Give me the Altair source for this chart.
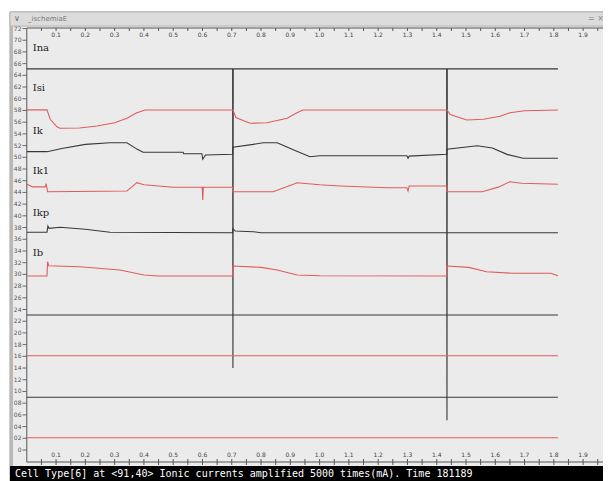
import altair as alt
import pandas as pd

# ---------------- data ----------------
ina_t = [0, 0.703, 0.704, 0.705, 1.434, 1.435, 1.436, 1.814]
ina_v = [65.1, 65.1, 14.0, 65.1, 65.1, 5.1, 65.1, 65.1]

isi_t = [0, 0.069, 0.080, 0.103, 0.113, 0.18, 0.240, 0.30, 0.342, 0.376, 0.404, 0.704, 0.714, 0.762,
         0.82, 0.889, 0.923, 0.943, 1.435, 1.446, 1.503, 1.56, 1.616, 1.650, 1.70, 1.814]
isi_v = [58.1, 58.1, 56.5, 55.2, 54.95, 55.0, 55.35, 55.9, 56.66, 57.6, 58.08, 58.08, 56.8, 55.81,
         55.9, 56.66, 57.6, 58.08, 58.08, 57.3, 56.37, 56.5, 57.0, 57.62, 57.95, 58.08]

ik_t = [0, 0.069, 0.12, 0.20, 0.284, 0.342, 0.376, 0.397, 0.534, 0.536, 0.598, 0.601, 0.610, 0.703,
        0.704, 0.773, 0.807, 0.855, 0.91, 0.967, 1.0, 1.298, 1.302, 1.306, 1.434, 1.435, 1.538, 1.59,
        1.640, 1.695, 1.814]
ik_v = [50.96, 50.96, 51.5, 52.2, 52.49, 52.49, 51.4, 50.85, 50.85, 50.6, 50.6, 49.66, 50.39, 50.51,
        51.71, 52.2, 52.49, 52.49, 51.3, 50.1, 50.27, 50.27, 49.83, 50.2, 50.51, 51.37, 51.98, 51.6,
        50.5, 49.83, 49.83]

ik1_t = [0, 0.02, 0.063, 0.066, 0.071, 0.342, 0.36, 0.376, 0.40, 0.50, 0.599, 0.601, 0.603, 0.703,
         0.704, 0.841, 0.89, 0.923, 1.0, 1.070, 1.230, 1.298, 1.302, 1.306, 1.434, 1.435, 1.555, 1.61,
         1.650, 1.69, 1.814]
ik1_v = [45.4, 44.95, 44.95, 45.5, 44.12, 44.24, 45.0, 45.66, 45.3, 44.88, 44.88, 42.71, 44.88, 44.88,
         44.12, 44.12, 45.0, 45.66, 45.3, 45.1, 44.81, 44.81, 44.24, 45.1, 45.1, 44.12, 44.12, 44.9,
         45.83, 45.56, 45.4]

ikp_t = [0, 0.069, 0.072, 0.076, 0.113, 0.20, 0.284, 0.703, 0.704, 0.712, 0.773, 0.80, 1.814]
ikp_v = [37.19, 37.19, 38.26, 37.87, 38.04, 37.7, 37.19, 37.12, 37.8, 37.4, 37.29, 37.12, 37.12]

ib_t = [0, 0.069, 0.071, 0.075, 0.18, 0.318, 0.40, 0.45, 0.703, 0.704, 0.80, 0.855, 0.923, 1.0,
        1.434, 1.435, 1.51, 1.57, 1.660, 1.79, 1.814]
ib_v = [29.72, 29.72, 32.17, 31.48, 31.3, 30.75, 29.9, 29.72, 29.72, 31.43, 31.2, 30.75, 29.89, 29.77,
        29.72, 31.43, 31.2, 30.46, 30.18, 30.18, 29.77]

flat_t = [0, 1.814]
flat_levels = [23.06, 16.11, 9.0, 2.1]

trace_names = ["Ina", "Isi", "Ik", "Ik1", "Ikp", "Ib"]
label_y = [68.6, 61.8, 54.5, 47.7, 40.4, 33.6]

y_tick_values = [72, 70, 68, 66, 64, 62, 60, 58, 56, 54, 52, 50, 48, 46, 44, 42, 40, 38, 36,
                 34, 32, 30, 28, 26, 24, 22, 20, 18, 16, 14, 12, 10, 8, 6, 4, 2, 0]
y_tick_labels = ["72", "70", "68", "66", "64", "62", "60", "58", "56", "54", "52", "50", "48", "46",
                 "44", "42", "40", "38", "36", "34", "32", "30", "28", "26", "24", "22", "20", "18",
                 "16", "14", "12", "10", "08", "06", "04", "02", "0"]

x_major = [0.1, 0.2, 0.3, 0.4, 0.5, 0.6, 0.7, 0.8, 0.9, 1.0, 1.1, 1.2, 1.3, 1.4, 1.5, 1.6, 1.7,
           1.8, 1.9]
x_major_labels = ["0.1", "0.2", "0.3", "0.4", "0.5", "0.6", "0.7", "0.8", "0.9", "1.0", "1.1", "1.2",
                  "1.3", "1.4", "1.5", "1.6", "1.7", "1.8", "1.9"]
x_minor = [0.05, 0.15, 0.25, 0.35, 0.45, 0.55, 0.65, 0.75, 0.85, 0.95, 1.05, 1.15, 1.25, 1.35,
           1.45, 1.55, 1.65, 1.75, 1.85, 1.95]

window_title = "_ischemiaE"
status_text = "Cell Type[6] at <91,40> Ionic currents amplified 5000 times(mA). Time 181189"

RED = "#e05c5c"
DARK = "#383838"

# ---------------- tables ----------------
rows = []
for name, ts, vs in [("Ina", ina_t, ina_v), ("Isi", isi_t, isi_v), ("Ik", ik_t, ik_v),
                     ("Ik1", ik1_t, ik1_v), ("Ikp", ikp_t, ikp_v), ("Ib", ib_t, ib_v)]:
    for i, (t, v) in enumerate(zip(ts, vs)):
        rows.append({"name": name, "t": t, "v": v, "i": i})
flat_names = ["F1", "F2", "F3", "F4"]
for name, lv in zip(flat_names, flat_levels):
    for i, t in enumerate(flat_t):
        rows.append({"name": name, "t": t, "v": lv, "i": i})
traces_df = pd.DataFrame(rows)

color_domain = ["Ina", "Isi", "Ik", "Ik1", "Ikp", "Ib", "F1", "F2", "F3", "F4"]
color_range = [DARK, RED, DARK, RED, DARK, RED, DARK, RED, DARK, RED]

labels_df = pd.DataFrame({"name": trace_names, "y": label_y})
yt_df = pd.DataFrame({"v": y_tick_values, "lab": y_tick_labels})
xmaj_df = pd.DataFrame({"t": x_major, "lab": x_major_labels})
xmin_df = pd.DataFrame({"t": x_minor})
one = pd.DataFrame({"a": [0]})

W, H = 595, 473
xs = alt.Scale(domain=[0, 2], range=[18.8, 604.4], nice=False, zero=False)
ys = alt.Scale(domain=[0, 72], range=[442, 20.5], nice=False, zero=False)


def box(x1, x2, y1, y2, **kw):
    return alt.Chart(one).mark_rect(**kw).encode(
        x=alt.value(x1), x2=alt.value(x2), y=alt.value(y1), y2=alt.value(y2))


def label(txt, x, y, **kw):
    return alt.Chart(one).mark_text(text=txt, align="left", baseline="middle", **kw).encode(
        x=alt.value(x), y=alt.value(y))


# ---------------- window chrome ----------------
frame = box(2, 600, 4, 478, color="#ebebeb", stroke="#9a9a9a", strokeWidth=1)
titlebar = box(2, 600, 4, 18, color="#dcdcdc", stroke="#b5b5b5", strokeWidth=1)
leftborder = box(2, 5, 18, 478, color="#b8b8b8")
title_chev = label("\u2228", 6, 11, fontSize=8, color="#666", font="DejaVu Sans")
title_txt = label(window_title, 20, 11, fontSize=7, color="#777", font="DejaVu Sans")
title_btn = label("= \u00d7", 580, 11, fontSize=8, color="#888", font="DejaVu Sans")
statusbar = box(2, 600, 458, 478, color="#000000")
status = label(status_text, 7, 466, fontSize=10, color="white", font="DejaVu Sans Mono")

# ---------------- axes drawn from tick arrays ----------------
left_axis = alt.Chart(one).mark_rule(color="#555", strokeWidth=1).encode(
    x=alt.value(18.8), y=alt.value(20), y2=alt.value(454))
top_axis = alt.Chart(one).mark_rule(color="#555", strokeWidth=1).encode(
    x=alt.value(18.8), x2=alt.value(600), y=alt.value(20))
bottom_axis = alt.Chart(one).mark_rule(color="#555", strokeWidth=1).encode(
    x=alt.value(18.8), x2=alt.value(600), y=alt.value(454))

top_major = alt.Chart(xmaj_df).mark_rule(color="#555").encode(
    x=alt.X("t:Q", scale=xs, axis=None), y=alt.value(20), y2=alt.value(23))
top_minor = alt.Chart(xmin_df).mark_rule(color="#555").encode(
    x=alt.X("t:Q", scale=xs, axis=None), y=alt.value(20), y2=alt.value(23))
top_labels = alt.Chart(xmaj_df).mark_text(fontSize=6, color="#444", font="DejaVu Sans",
                                          baseline="middle").encode(
    x=alt.X("t:Q", scale=xs, axis=None), y=alt.value(27), text="lab:N")
bot_major = alt.Chart(xmaj_df).mark_rule(color="#555").encode(
    x=alt.X("t:Q", scale=xs, axis=None), y=alt.value(451), y2=alt.value(457))
bot_minor = alt.Chart(xmin_df).mark_rule(color="#555").encode(
    x=alt.X("t:Q", scale=xs, axis=None), y=alt.value(451), y2=alt.value(457))
bot_labels = alt.Chart(xmaj_df).mark_text(fontSize=6, color="#444", font="DejaVu Sans",
                                          baseline="middle").encode(
    x=alt.X("t:Q", scale=xs, axis=None), y=alt.value(447), text="lab:N")

y_labels = alt.Chart(yt_df).mark_text(fontSize=6, color="#555", font="DejaVu Sans",
                                      align="right", baseline="middle").encode(
    y=alt.Y("v:Q", scale=ys, axis=None), x=alt.value(13.5), text="lab:N")
y_ticks = alt.Chart(yt_df).mark_rule(color="#666").encode(
    y=alt.Y("v:Q", scale=ys, axis=None), x=alt.value(14.5), x2=alt.value(18.8))

# ---------------- traces ----------------
lines = alt.Chart(traces_df).mark_line(strokeWidth=1.1).encode(
    x=alt.X("t:Q", scale=xs, axis=None),
    y=alt.Y("v:Q", scale=ys, axis=None),
    color=alt.Color("name:N", scale=alt.Scale(domain=color_domain, range=color_range), legend=None),
    order=alt.Order("i:Q"),
)

name_labels = alt.Chart(labels_df).mark_text(fontSize=10, color="#222", font="DejaVu Serif",
                                             align="left", baseline="middle").encode(
    x=alt.value(24.7), y=alt.Y("y:Q", scale=ys, axis=None), text="name:N")

chart = alt.layer(
    frame, titlebar, leftborder, title_chev, title_txt, title_btn,
    left_axis, top_axis, bottom_axis, top_major, top_minor, top_labels,
    bot_major, bot_minor, bot_labels, y_labels, y_ticks,
    lines, name_labels, statusbar, status,
).properties(
    width=W, height=H, padding=0, autosize="none", background="white"
).configure_view(strokeWidth=0)

chart.save("out.html", embed_options={"renderer": "svg", "actions": False})
